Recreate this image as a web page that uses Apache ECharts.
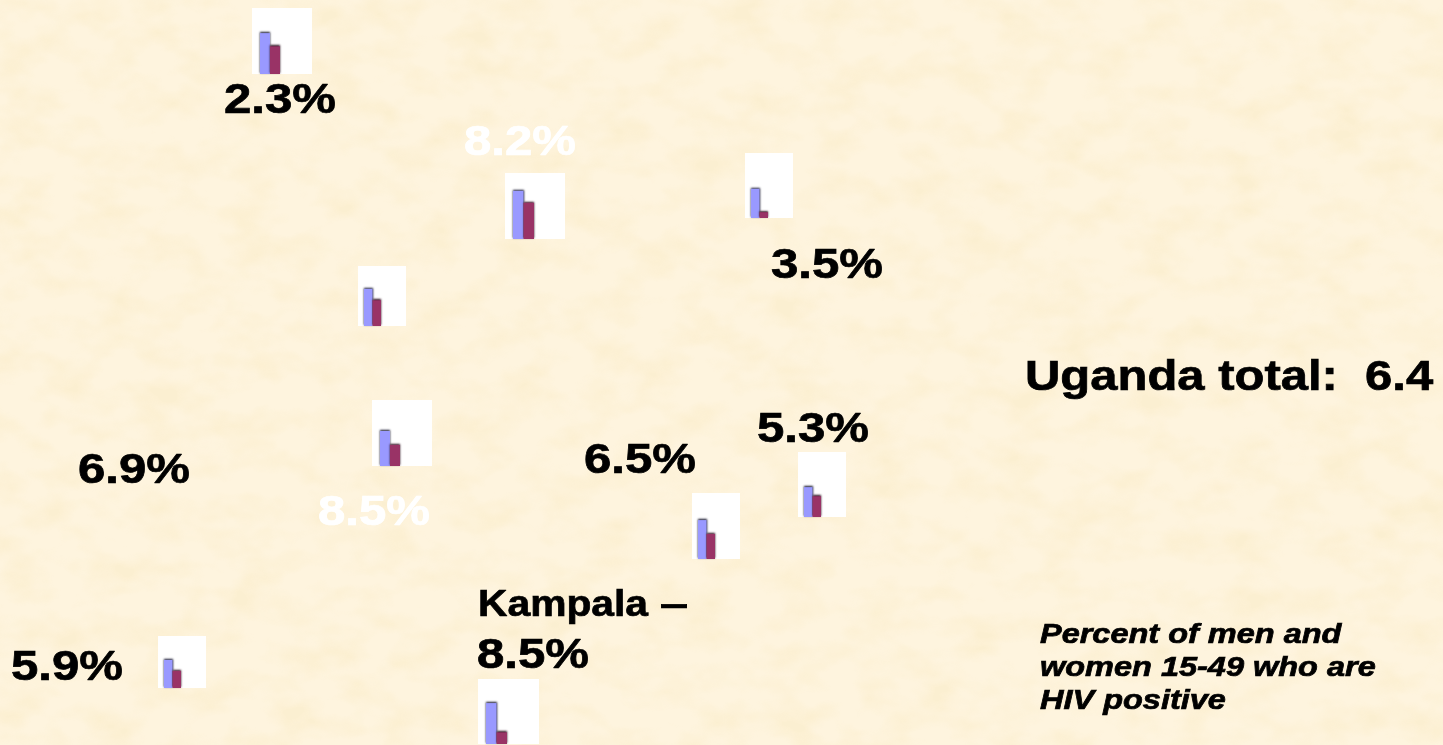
<!DOCTYPE html>
<html>
<head>
<meta charset="utf-8">
<style>
  html, body { margin: 0; height: 100%; overflow: hidden; background-color: #fdf3da; }
  #paper { position: absolute; left: 0; top: 0; width: 1443px; height: 745px; }
  #main { position: absolute; left: 0; top: 0; width: 1443px; height: 745px; }
</style>
<script src="https://cdn.jsdelivr.net/npm/echarts@6/dist/echarts.min.js"></script>
</head>
<body>
<!-- mottled paper texture behind the chart -->
<svg id="paper" xmlns="http://www.w3.org/2000/svg" width="1443" height="745">
  <filter id="mottle" x="0" y="0" width="100%" height="100%" color-interpolation-filters="sRGB">
    <feTurbulence type="fractalNoise" baseFrequency="0.022 0.034" numOctaves="3" seed="7"/>
    <feColorMatrix type="matrix" values="0 0 0 0 0.96  0 0 0 0 0.88  0 0 0 0 0.66  2.6 0 0 0 -1.05"/>
  </filter>
  <rect width="1443" height="745" fill="#fef4de"/>
  <rect width="1443" height="745" fill="#000" filter="url(#mottle)" opacity="0.22"/>
</svg>
<div id="main"></div>
<script>
// bar heights, read as percent of each small panel's height
var blueValues = [62, 73, 45, 62, 53, 46, 59, 54, 63];
var redValues = [42, 55, 9, 43, 32, 32, 38, 33, 18];

// panel boxes on the map: left, top, width, height, left of first bar, width of one bar
var panels = [
  [252, 8, 60, 66, 260, 10],
  [505, 173, 60, 66, 513, 10.5],
  [745, 153, 48, 65, 751, 8.5],
  [358, 266, 48, 60, 364, 8.5],
  [372, 400, 60, 66, 380, 10],
  [798, 452, 48, 65, 804, 8.5],
  [692, 493, 48, 66, 698, 8.5],
  [158, 636, 48, 52, 164, 8.5],
  [478, 679, 61, 65, 486, 10.5]
];

// text, x, y of baseline middle, colour
var pctLabels = [
  ['2.3%', 224, 101, '#000'],
  ['8.2%', 464, 143, '#fff'],
  ['3.5%', 771, 266, '#000'],
  ['5.3%', 757, 430, '#000'],
  ['6.5%', 584, 461, '#000'],
  ['6.9%', 78, 471, '#000'],
  ['8.5%', 318, 513, '#fff'],
  ['5.9%', 11, 668, '#000'],
  ['8.5%', 477, 656, '#000']
];

var chart = echarts.init(document.getElementById('main'), null, { renderer: 'canvas' });

var grids = [], xAxes = [], yAxes = [], series = [], graphics = [];

panels.forEach(function (p, i) {
  // white box behind each little chart
  graphics.push({
    type: 'rect',
    shape: { x: p[0], y: p[1], width: p[2], height: p[3] },
    style: { fill: '#fff' },
    z: 0
  });
  grids.push({ left: p[4], top: p[1], width: p[5] * 2, height: p[3], show: false });
  xAxes.push({ type: 'category', gridIndex: i, data: ['HIV'], show: false });
  yAxes.push({ type: 'value', gridIndex: i, min: 0, max: 100, show: false });
  series.push({
    type: 'bar', xAxisIndex: i, yAxisIndex: i, data: [blueValues[i]],
    barGap: 0, barCategoryGap: 0, silent: true,
    itemStyle: { color: '#9999ff', shadowColor: '#14142c', shadowBlur: 2, shadowOffsetY: -1 }
  });
  series.push({
    type: 'bar', xAxisIndex: i, yAxisIndex: i, data: [redValues[i]],
    barGap: 0, barCategoryGap: 0, silent: true,
    itemStyle: { color: '#993366', shadowColor: '#2a0d1b', shadowBlur: 2, shadowOffsetY: -1 }
  });
});

function addText(str, x, y, size, color, sx, italic) {
  graphics.push({
    type: 'text',
    x: x, y: y, scaleX: sx, z: 5,
    style: {
      text: str,
      fill: color,
      stroke: color,
      lineWidth: 0.7,
      font: (italic ? 'italic ' : '') + 'bold ' + size + 'px "Liberation Sans", Arial, sans-serif',
      textAlign: 'left',
      textVerticalAlign: 'middle'
    }
  });
}

pctLabels.forEach(function (t) {
  addText(t[0], t[1], t[2], 42, t[3], 1.17, false);
});
addText('Kampala', 478, 606, 36, '#000', 1.133, false);
addText('\u2013', 660, 606, 36, '#000', 1.4, false);
addText('Uganda total:  6.4', 1025, 378, 42, '#000', 1.166, false);
addText('Percent of men and', 1040, 636, 27, '#000', 1.203, true);
addText('women 15-49 who are', 1040, 669, 27, '#000', 1.203, true);
addText('HIV positive', 1040, 702, 27, '#000', 1.203, true);

chart.setOption({
  animation: false,
  backgroundColor: 'transparent',
  grid: grids,
  xAxis: xAxes,
  yAxis: yAxes,
  series: series,
  graphic: graphics
});
</script>
</body>
</html>
